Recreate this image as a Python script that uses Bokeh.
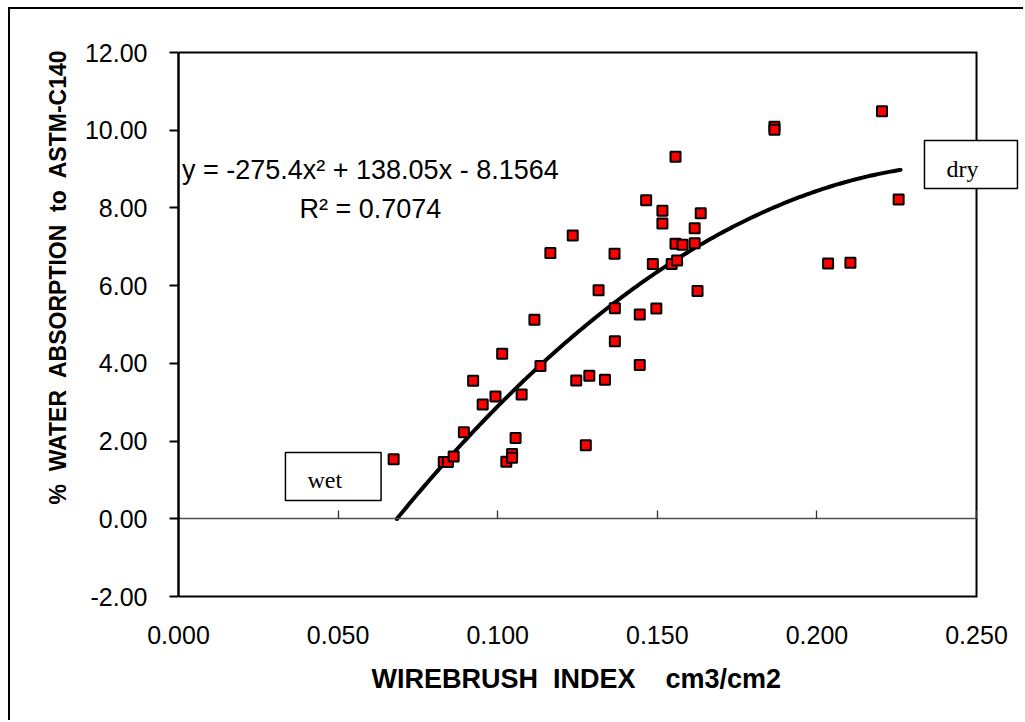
import numpy as np
from bokeh.plotting import figure
from bokeh.models import (Range1d, LinearAxis, NumeralTickFormatter, FixedTicker,
                          Label, Title)
from bokeh.embed import file_html
from bokeh.resources import INLINE

# ---- data ----
wirebrush = [0.0674, 0.0831, 0.0844, 0.0862, 0.0894, 0.0923, 0.0953, 0.0993,
             0.1014, 0.1027, 0.1045, 0.1045, 0.1056, 0.1075, 0.1115, 0.1134,
             0.1165, 0.1235, 0.1246, 0.1276, 0.1287, 0.1316, 0.1336, 0.1366,
             0.1367, 0.1367, 0.1445, 0.1445, 0.1465, 0.1486, 0.1497, 0.1516,
             0.1516, 0.1545, 0.1557, 0.1557, 0.1562, 0.1579, 0.1617, 0.1617,
             0.1626, 0.1636, 0.1867, 0.1867, 0.2035, 0.2105, 0.2204, 0.2256]
absorption = [1.53, 1.46, 1.46, 1.60, 2.23, 3.55, 2.94, 3.15,
              4.25, 1.47, 1.67, 1.57, 2.08, 3.20, 5.12, 3.93,
              6.84, 7.29, 3.56, 1.89, 3.68, 5.88, 3.58, 6.82,
              5.42, 4.57, 5.26, 3.96, 8.20, 6.56, 5.41, 7.93,
              7.60, 6.56, 9.32, 7.08, 6.65, 7.05, 7.48, 7.09,
              5.86, 7.86, 10.09, 10.01, 6.57, 6.59, 10.49, 8.22]

# polynomial trendline shown on the chart: y = a x^2 + b x + c
trend_coef = [-275.4, 138.05, -8.1564]
trend_x_range = [0.0684, 0.2262]

x_min, x_max = 0.0, 0.25
y_min, y_max = -2.0, 12.0
x_ticks = [0.0, 0.05, 0.10, 0.15, 0.20, 0.25]
y_ticks = [-2, 0, 2, 4, 6, 8, 10, 12]

equation_text = "y = -275.4x\u00b2 + 138.05x - 8.1564"
r2_text = "R\u00b2 = 0.7074"
x_title = "WIREBRUSH\u00a0 INDEX\u00a0\u00a0\u00a0 cm3/cm2"
y_title = "%\u00a0 WATER\u00a0 ABSORPTION\u00a0 to\u00a0 ASTM-C140"

FONT = "Liberation Sans"
SERIF = "Liberation Serif"

# frame extends to the right of the plot area so that the "dry" box is not clipped
ypad = 2 / 38.857
p = figure(width=1015, height=713, output_backend="svg", toolbar_location=None,
           x_range=Range1d(x_min, 0.26472),
           y_range=Range1d(y_min - ypad, y_max + ypad),
           x_axis_location=None,
           min_border_left=168, min_border_right=2, min_border_top=41,
           min_border_bottom=124)
p.styles = {"margin-left": "8px", "margin-top": "7px",
            "border-left": "2px solid black", "border-top": "2px solid black"}
p.grid.visible = False
p.background_fill_color = "white"
p.border_fill_color = "white"
p.outline_line_color = None

# y axis
ya = p.yaxis[0]
ya.ticker = FixedTicker(ticks=y_ticks)
ya.bounds = (y_min, y_max)
ya.formatter = NumeralTickFormatter(format="0.00")
ya.axis_line_color = "black"
ya.axis_line_width = 2.5
ya.major_tick_in = 0
ya.major_tick_out = 9
ya.major_tick_line_width = 2
ya.major_tick_line_color = "black"
ya.minor_tick_line_color = None
ya.major_label_standoff = 22
ya.major_label_text_font = FONT
ya.major_label_text_font_size = "25px"
ya.major_label_text_color = "black"

# x tick labels along the bottom
xlab = LinearAxis(ticker=FixedTicker(ticks=x_ticks),
                  formatter=NumeralTickFormatter(format="0.000"))
xlab.axis_line_color = None
xlab.major_tick_line_color = None
xlab.minor_tick_line_color = None
xlab.major_tick_in = 0
xlab.major_tick_out = 0
xlab.major_label_standoff = 27
xlab.major_label_text_font = FONT
xlab.major_label_text_font_size = "25px"
xlab.major_label_text_color = "black"
p.add_layout(xlab, "below")

# x axis line crossing at y = 0
x0 = LinearAxis(fixed_location=0, ticker=FixedTicker(ticks=x_ticks),
                bounds=(x_min, x_max))
x0.axis_line_color = "#4d4d4d"
x0.axis_line_width = 1.3
x0.major_tick_in = 8
x0.major_tick_out = 0
x0.major_tick_line_color = "#333333"
x0.major_tick_line_width = 1.3
x0.minor_tick_line_color = None
x0.major_label_text_color = None
p.add_layout(x0, "below")

# axis titles
p.add_layout(Title(text=x_title, align="left", offset=193, standoff=31,
                   text_font=FONT, text_font_style="bold",
                   text_font_size="27px", text_color="black"), "below")
p.add_layout(Title(text=y_title, align="left", offset=94, standoff=22,
                   text_font=FONT, text_font_style="bold",
                   text_font_size="23px", text_color="black"), "left")

# plot-area border (bottom, right, top)
p.line([x_min, x_max, x_max, x_min], [y_min, y_min, y_max, y_max],
       line_color="black", line_width=2, line_join="miter")

# trendline
tx = np.linspace(trend_x_range[0], trend_x_range[1], 200)
ty = np.polyval(trend_coef, tx)
p.line(tx, ty, line_color="black", line_width=4, line_cap="round")

# data points
p.scatter(wirebrush, absorption, marker="square", size=10, fill_color="#ff0000",
          line_color="black", line_width=2)

# equation labels
p.add_layout(Label(x=0.0601, y=8.98, text=equation_text, text_align="center",
                   text_baseline="alphabetic", text_font=FONT,
                   text_font_size="27px", text_color="black"))
p.add_layout(Label(x=0.0601, y=7.98, text=r2_text, text_align="center",
                   text_baseline="alphabetic", text_font=FONT,
                   text_font_size="27px", text_color="black"))

# wet / dry boxes (anchored at the box's top-left corner)
for bx, by, t in [(0.0335, 1.706, "wet"), (0.2337, 9.735, "dry")]:
    p.add_layout(Label(x=bx, y=by, text=t, anchor="top_left",
                       text_font=SERIF, text_font_size="24px", text_color="black",
                       border_line_color="black", border_line_width=1.5,
                       background_fill_color="white", padding=(22, 39, 15, 7)))

open("out.html", "w").write(file_html(p, INLINE))
